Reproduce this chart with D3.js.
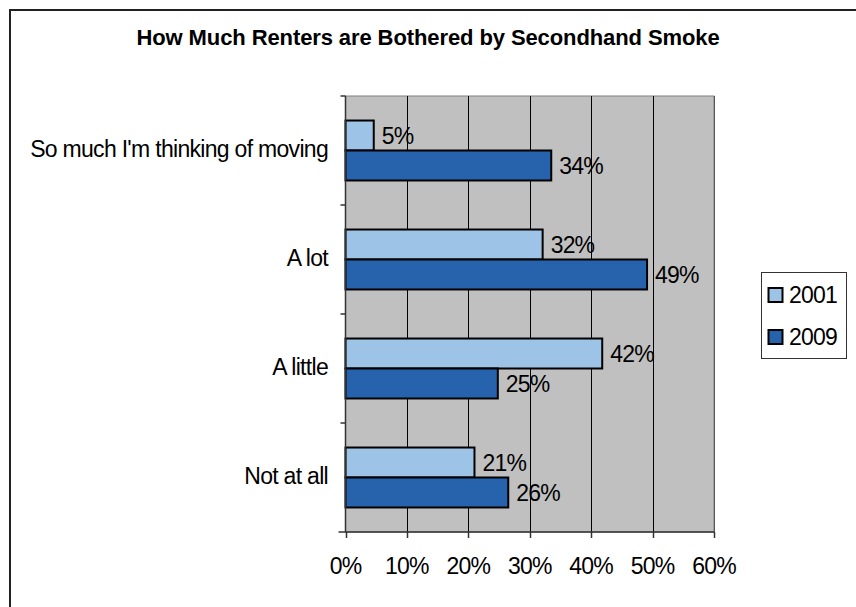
<!DOCTYPE html>
<html>
<head>
<meta charset="utf-8">
<script src="https://cdn.jsdelivr.net/npm/d3@7"></script>
<style>
  html, body { margin: 0; padding: 0; background: #fff; }
  svg { display: block; }
  text { font-family: "Liberation Sans", Arial, sans-serif; fill: #000; }
</style>
</head>
<body>
<svg id="chart" width="856" height="607"></svg>
<script>
const title = "How Much Renters are Bothered by Secondhand Smoke";
const categories = ["So much I'm thinking of moving", "A lot", "A little", "Not at all"];
const seriesNames = ["2001", "2009"];
const values2001 = [4.6, 32.1, 41.8, 21.0];
const values2009 = [33.5, 49.1, 24.8, 26.5];
const labels2001 = ["5%", "32%", "42%", "21%"];
const labels2009 = ["34%", "49%", "25%", "26%"];
const xTicks = [0, 10, 20, 30, 40, 50, 60];
const colors = ["#9DC3E6", "#2762AD"];

const svg = d3.select("#chart");

// outer border (clipped at right/bottom as in reference)
svg.append("rect")
  .attr("x", 10).attr("y", 10).attr("width", 900).attr("height", 700)
  .attr("fill", "none").attr("stroke", "#222").attr("stroke-width", 2);

// title
svg.append("text")
  .attr("x", 428).attr("y", 45)
  .attr("text-anchor", "middle")
  .style("font-weight", "bold").style("font-size", "22px")
  .style("letter-spacing", "-0.1px")
  .text(title);

const plot = { left: 345.5, right: 714, top: 96, bottom: 532 };

const x = d3.scaleLinear().domain([0, 60]).range([plot.left, plot.right]);
const y = d3.scaleBand().domain(categories).range([plot.top, plot.bottom])
  .paddingInner(0.45).paddingOuter(0.225);
const ySub = d3.scaleBand().domain(seriesNames).range([0, y.bandwidth()]);

// plot background
svg.append("rect")
  .attr("x", plot.left).attr("y", plot.top)
  .attr("width", plot.right - plot.left).attr("height", plot.bottom - plot.top)
  .attr("fill", "#C0C0C0").attr("stroke", "#808080").attr("stroke-width", 1);

// gridlines
svg.append("g").selectAll("line")
  .data(xTicks.filter(d => d > 0))
  .join("line")
  .attr("x1", d => Math.round(x(d)) + 0.5).attr("x2", d => Math.round(x(d)) + 0.5)
  .attr("y1", plot.top).attr("y2", plot.bottom)
  .attr("stroke", d => d === 60 ? "#555" : "#000").attr("stroke-width", 1);

// bars
const data = categories.map((c, i) => ({
  cat: c,
  items: [
    { s: "2001", v: values2001[i], label: labels2001[i], color: colors[0] },
    { s: "2009", v: values2009[i], label: labels2009[i], color: colors[1] }
  ]
}));

const g = svg.append("g").selectAll("g")
  .data(data).join("g")
  .attr("transform", d => `translate(0,${y(d.cat)})`);

g.selectAll("rect")
  .data(d => d.items).join("rect")
  .attr("x", x(0))
  .attr("y", d => ySub(d.s))
  .attr("width", d => x(d.v) - x(0))
  .attr("height", ySub.bandwidth())
  .attr("fill", d => d.color)
  .attr("stroke", "#000").attr("stroke-width", 2);

g.selectAll("text")
  .data(d => d.items).join("text")
  .attr("x", d => x(d.v) + 8)
  .attr("y", d => ySub(d.s) + ySub.bandwidth() / 2)
  .attr("dy", "0.36em")
  .style("font-size", "23px").style("letter-spacing", "-0.8px")
  .text(d => d.label);

// y axis
const yAxisG = svg.append("g");
yAxisG.append("line")
  .attr("x1", plot.left).attr("x2", plot.left)
  .attr("y1", plot.top).attr("y2", plot.bottom)
  .attr("stroke", "#333").attr("stroke-width", 1.5);
yAxisG.selectAll("line.tick")
  .data(categories)
  .join("line").attr("class", "tick")
  .attr("x1", plot.left - 5).attr("x2", plot.left)
  .attr("y1", c => y(c) - y.step() * y.paddingOuter())
  .attr("y2", c => y(c) - y.step() * y.paddingOuter())
  .attr("stroke", "#333").attr("stroke-width", 1.5);
yAxisG.selectAll("text")
  .data(categories).join("text")
  .attr("x", 328)
  .attr("y", c => y(c) + y.bandwidth() / 2 - 2)
  .attr("dy", "0.36em")
  .attr("text-anchor", "end")
  .style("font-size", "23px").style("letter-spacing", "-0.7px")
  .text(c => c);

// x axis
const xAxisG = svg.append("g");
xAxisG.append("line")
  .attr("x1", plot.left - 7).attr("x2", plot.right)
  .attr("y1", plot.bottom).attr("y2", plot.bottom)
  .attr("stroke", "#333").attr("stroke-width", 1.5);
xAxisG.selectAll("line.tick")
  .data(xTicks).join("line").attr("class", "tick")
  .attr("x1", d => Math.round(x(d)) + 0.5).attr("x2", d => Math.round(x(d)) + 0.5)
  .attr("y1", plot.bottom).attr("y2", plot.bottom + 6)
  .attr("stroke", "#333").attr("stroke-width", 1.5);
xAxisG.selectAll("text")
  .data(xTicks).join("text")
  .attr("x", d => x(d))
  .attr("y", 574)
  .attr("text-anchor", "middle")
  .style("font-size", "23px").style("letter-spacing", "-0.8px")
  .text(d => d + "%");

// legend
const lg = svg.append("g");
lg.append("rect")
  .attr("x", 761.5).attr("y", 272.5).attr("width", 85).attr("height", 86)
  .attr("fill", "#fff").attr("stroke", "#333").attr("stroke-width", 1);
const legendRows = [
  { name: seriesNames[0], color: colors[0], y: 295 },
  { name: seriesNames[1], color: colors[1], y: 337 }
];
lg.selectAll("rect.sw").data(legendRows).join("rect").attr("class", "sw")
  .attr("x", 768.5).attr("y", d => d.y - 7).attr("width", 14).attr("height", 14)
  .attr("fill", d => d.color).attr("stroke", "#000").attr("stroke-width", 2);
lg.selectAll("text").data(legendRows).join("text")
  .attr("x", 789).attr("y", d => d.y).attr("dy", "0.36em")
  .style("font-size", "23px").style("letter-spacing", "-0.8px")
  .text(d => d.name);
</script>
</body>
</html>
